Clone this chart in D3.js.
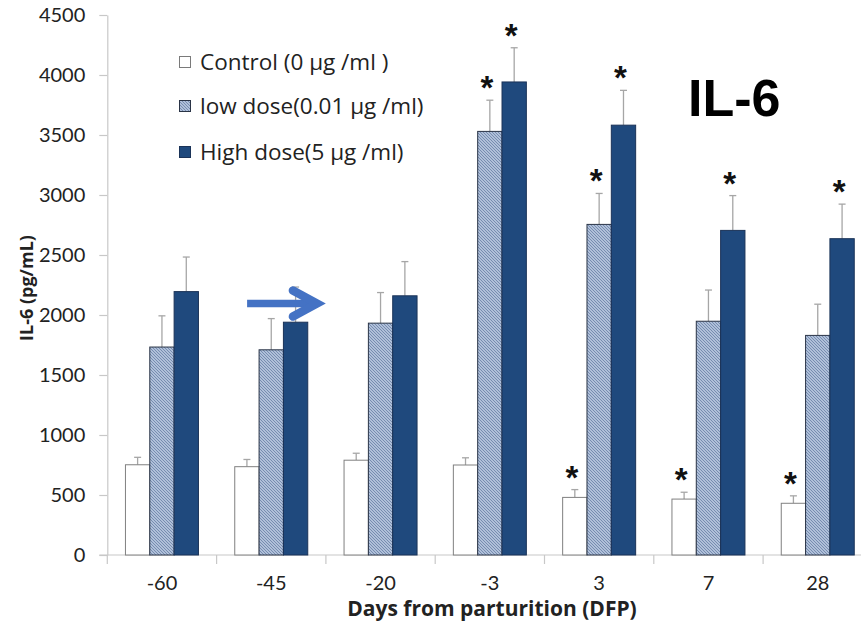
<!DOCTYPE html>
<html>
<head>
<meta charset="utf-8">
<script src="https://cdn.jsdelivr.net/npm/d3@7"></script>
<style>
  html, body { margin: 0; padding: 0; background: #fff; }
  svg { display: block; }
</style>
</head>
<body>
<svg id="chart" width="861" height="629"></svg>
<script>
// ---------------- data ----------------
const categories = ["-60", "-45", "-20", "-3", "3", "7", "28"];
const seriesNames = ["Control (0 µg /ml )", "low dose(0.01 µg /ml)", "High dose(5 µg /ml)"];
const seriesKeys = ["control", "low", "high"];
const controlValues = [752, 736, 790, 750, 480, 466, 431];
const controlErrors = [62, 60, 58, 60, 65, 57, 62];
const lowValues = [1733, 1710, 1932, 3530, 2755, 1948, 1830];
const lowErrors = [260, 260, 255, 260, 258, 260, 260];
const highValues = [2195, 1940, 2160, 3942, 3582, 2705, 2636];
const highErrors = [288, 293, 285, 285, 290, 290, 288];
const controlSig = [0, 0, 0, 0, 1, 1, 1];
const lowSig = [0, 0, 0, 1, 1, 0, 0];
const highSig = [0, 0, 0, 1, 1, 1, 1];
const yTicks = [0, 500, 1000, 1500, 2000, 2500, 3000, 3500, 4000, 4500];
const arrowValue = 2095;

// --------------- layout ---------------
const svg = d3.select("#chart");
const left = 107.3, bandW = 109.3;
const yBottom = 555, yTop = 15;
const groupW = 73;

const x0 = d3.scaleBand().domain(categories).range([left, left + bandW * categories.length]).paddingInner(0).paddingOuter(0);
const bw = x0.bandwidth();
const x1 = d3.scaleBand().domain(seriesKeys).range([(bw - groupW) / 2, (bw + groupW) / 2]).padding(0);
const y = d3.scaleLinear().domain([0, 4500]).range([yBottom, yTop]);

const valuesBy = { control: controlValues, low: lowValues, high: highValues };
const errorsBy = { control: controlErrors, low: lowErrors, high: highErrors };
const sigBy = { control: controlSig, low: lowSig, high: highSig };

// hatch pattern
const defs = svg.append("defs");
const pat = defs.append("pattern").attr("id", "hatch").attr("patternUnits", "userSpaceOnUse")
  .attr("width", 3).attr("height", 3);
pat.append("rect").attr("width", 3).attr("height", 3).attr("fill", "#b0c0d9");
pat.append("path").attr("d", "M-1,-1 L4,4 M2,-1 L4,1 M-1,2 L1,4")
  .attr("stroke", "#6f86ab").attr("stroke-width", 0.9);

const fills = { control: "#ffffff", low: "url(#hatch)", high: "#1f497d" };
const strokes = { control: "#808080", low: "#2a3446", high: "#1b3358" };

// ---------------- axes ----------------
const fontMain = "Lato, 'Open Sans', sans-serif";
const fontLegend = "'Open Sans', Lato, sans-serif";

const yAxis = d3.axisLeft(y).tickValues(yTicks).tickFormat(d3.format("d"))
  .tickSize(8).tickSizeOuter(0).tickPadding(14);
const gy = svg.append("g").attr("transform", `translate(${left},0)`).call(yAxis);
gy.select(".domain").attr("stroke", "#c8c8c8").attr("stroke-width", 1.2);
gy.selectAll(".tick line").attr("stroke", "#c8c8c8").attr("stroke-width", 1.2);
gy.selectAll(".tick text").attr("font-family", fontMain).attr("font-size", 20).attr("fill", "#222");

// x axis line
svg.append("line").attr("x1", left - 8).attr("x2", 861).attr("y1", y(0)).attr("y2", y(0))
  .attr("stroke", "#c8c8c8").attr("stroke-width", 1.2);
// category boundary ticks
const bounds = [x0(categories[0])].concat(categories.map(c => x0(c) + bw));
svg.append("g").selectAll("line").data(bounds).join("line")
  .attr("x1", d => d).attr("x2", d => d).attr("y1", y(0)).attr("y2", y(0) + 9)
  .attr("stroke", "#c8c8c8").attr("stroke-width", 1.2);
// category labels
svg.append("g").selectAll("text").data(categories).join("text")
  .attr("x", d => x0(d) + bw / 2).attr("y", 590)
  .attr("text-anchor", "middle").attr("font-family", fontMain).attr("font-size", 20).attr("fill", "#222")
  .text(d => d);

// axis titles
svg.append("text").attr("x", 492).attr("y", 616).attr("text-anchor", "middle")
  .attr("font-family", fontLegend).attr("font-weight", "bold").attr("font-size", 21).attr("fill", "#222")
  .text("Days from parturition (DFP)");
svg.append("text").attr("transform", "translate(33,288) rotate(-90)").attr("text-anchor", "middle")
  .attr("font-family", fontLegend).attr("font-weight", "bold").attr("font-size", 18).attr("fill", "#222")
  .text("IL-6 (pg/mL)");

// ---------------- bars ----------------
const rows = [];
categories.forEach((c, i) => {
  seriesKeys.forEach(k => {
    rows.push({ cat: c, key: k, v: valuesBy[k][i], e: errorsBy[k][i], s: sigBy[k][i] });
  });
});

const cx = d => x0(d.cat) + x1(d.key) + x1.bandwidth() / 2;
const gErr = svg.append("g");
gErr.selectAll("line.v").data(rows).join("line").attr("class", "v")
  .attr("x1", cx).attr("x2", cx)
  .attr("y1", d => y(d.v)).attr("y2", d => y(d.v + d.e))
  .attr("stroke", "#a6a6a6").attr("stroke-width", 1.3);
gErr.selectAll("line.c").data(rows).join("line").attr("class", "c")
  .attr("x1", d => cx(d) - 3.5).attr("x2", d => cx(d) + 3.5)
  .attr("y1", d => y(d.v + d.e)).attr("y2", d => y(d.v + d.e))
  .attr("stroke", "#a6a6a6").attr("stroke-width", 1.3);

svg.append("g").selectAll("rect").data(rows).join("rect")
  .attr("x", d => x0(d.cat) + x1(d.key))
  .attr("y", d => y(d.v))
  .attr("width", x1.bandwidth())
  .attr("height", d => y(0) - y(d.v))
  .attr("fill", d => fills[d.key])
  .attr("stroke", d => strokes[d.key])
  .attr("stroke-width", 1);

// significance stars
svg.append("g").selectAll("text").data(rows.filter(d => d.s)).join("text")
  .attr("x", d => cx(d) - 3)
  .attr("y", d => y(d.v + d.e) - 1)
  .attr("text-anchor", "middle")
  .attr("font-family", "'Liberation Sans', Arial, sans-serif").attr("font-weight", "bold")
  .attr("font-size", 33).attr("fill", "#111")
  .text("*");

// ---------------- arrow annotation ----------------
const ay = y(arrowValue);
const ax1 = x0("-45") + 30.5, axTip = x0("-20") - 9;
svg.append("line").attr("x1", ax1).attr("x2", axTip - 4).attr("y1", ay).attr("y2", ay)
  .attr("stroke", "#4472c4").attr("stroke-width", 7.5);
svg.append("path")
  .attr("d", `M${axTip - 24},${ay - 13} L${axTip},${ay} L${axTip - 24},${ay + 13}`)
  .attr("fill", "none").attr("stroke", "#4472c4").attr("stroke-width", 8.5)
  .attr("stroke-linecap", "round").attr("stroke-linejoin", "miter").attr("stroke-miterlimit", 10);

// ---------------- legend ----------------
const legendY = [62, 106, 152];
const lg = svg.append("g");
seriesKeys.forEach((k, i) => {
  lg.append("rect").attr("x", 179.5).attr("y", legendY[i] - 5.5).attr("width", 11).attr("height", 11)
    .attr("fill", fills[k]).attr("stroke", k === "control" ? "#7a7a7a" : strokes[k]).attr("stroke-width", 1);
  lg.append("text").attr("x", 200).attr("y", legendY[i] + 7.5)
    .attr("font-family", fontLegend).attr("font-size", 22.5).attr("fill", "#222")
    .text(seriesNames[i]);
});

// ---------------- title ----------------
svg.append("text").attr("x", 688).attr("y", 116)
  .attr("font-family", "'Liberation Sans', Arial, sans-serif").attr("font-weight", "bold")
  .attr("font-size", 52).attr("fill", "#000").text("IL-6");
</script>
</body>
</html>
